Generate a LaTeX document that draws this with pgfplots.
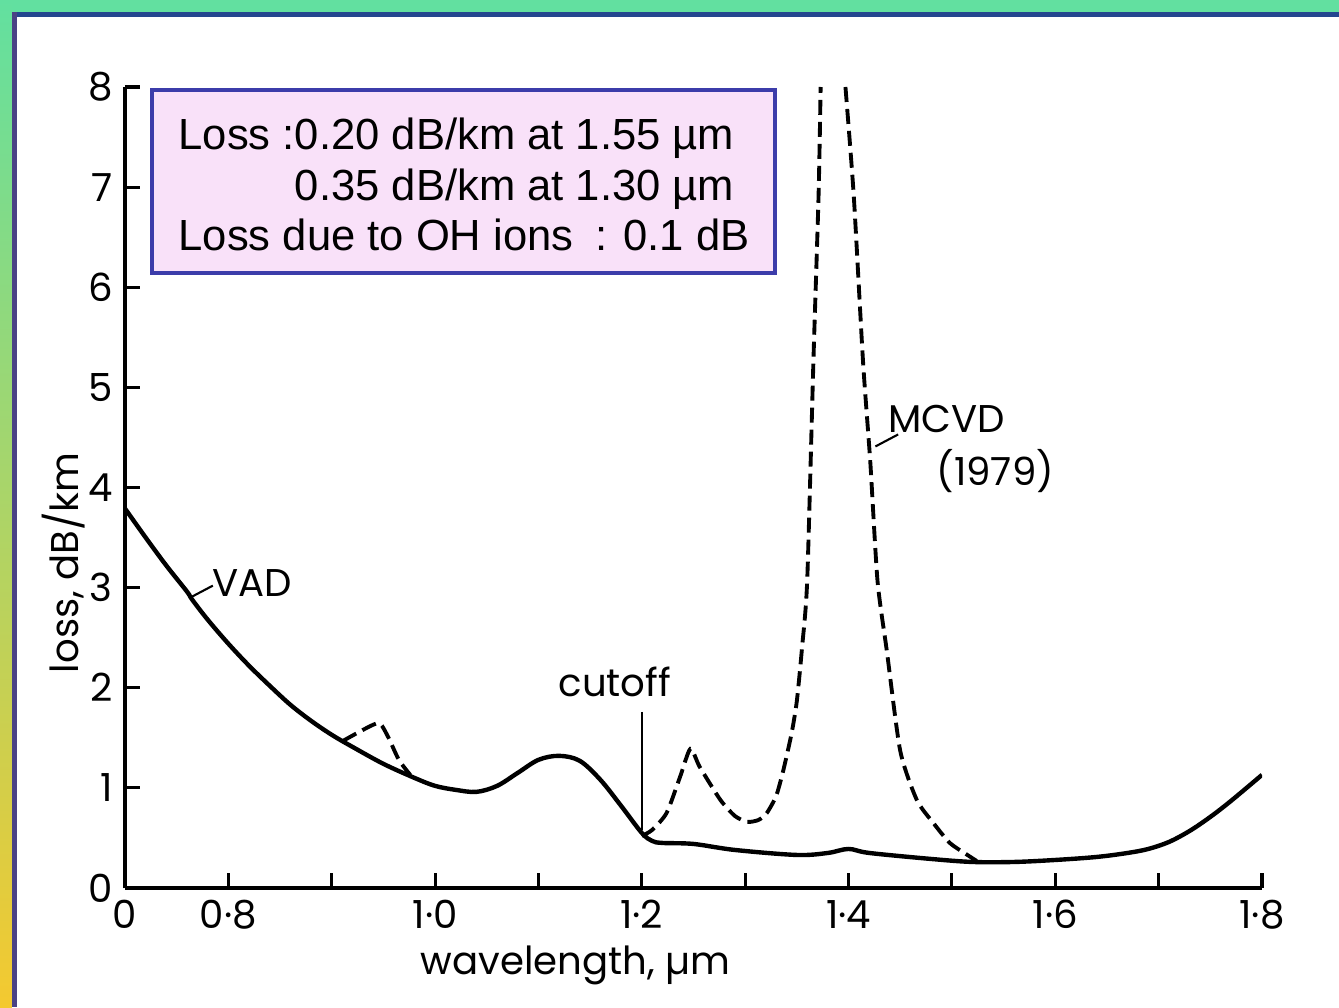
\documentclass[border=0pt]{standalone}
\usepackage{fontspec}
\setmainfont{Poppins}
\newfontfamily\boxfont{Liberation Sans}
\usepackage{pgfplots}
\pgfplotsset{compat=1.18}

\definecolor{frameGreen}{HTML}{62E0A0}
\definecolor{frameYellow}{HTML}{F4C930}
\definecolor{frameBlue}{HTML}{24468F}
\definecolor{framePurple}{HTML}{4A4285}
\definecolor{boxFill}{HTML}{F9E1F9}
\definecolor{boxEdge}{HTML}{3C3CAA}

\begin{document}
\begin{tikzpicture}
% page frame (1 px of the reference = 0.1 mm, axis origin at (0,0))
\fill[white] (-1.25,-1.19) rectangle (12.14,8.88);
\fill[frameGreen] (-1.25,8.76) rectangle (12.14,8.88);
\shade[top color=frameGreen, bottom color=frameYellow] (-1.25,-1.19) rectangle (-1.13,8.88);
\fill[frameBlue] (-1.13,8.71) rectangle (12.14,8.76);
\fill[framePurple] (-1.13,-1.19) rectangle (-1.08,8.76);

\begin{axis}[
  at={(0,0)}, anchor=south west,
  scale only axis, width=11.37cm, height=8.01cm,
  xmin=0.7, xmax=1.8, ymin=0, ymax=8,
  axis x line=bottom, axis y line=left,
  axis line style={-, line width=0.9pt},
  xtick={0.7,0.8,1.0,1.2,1.4,1.6,1.8},
  xticklabels={0,0·8,1·0,1·2,1·4,1·6,1·8},
  minor xtick={0.9,1.1,1.3,1.5,1.7},
  ytick={0,1,2,3,4,5,6,7,8},
  yticklabels={0,1,2,3,4,5,6,7,8},
  tick align=inside, major tick length=0.15cm, minor tick length=0.15cm,
  tick style={black, line width=0.9pt},
  every tick label/.append style={font=\fontsize{11}{13}\selectfont},
  xlabel={wavelength, µm}, ylabel={loss, dB/km},
  xlabel style={at={(rel axis cs:0.396,-0.0961)}, anchor=center, font=\fontsize{11}{13}\selectfont},
  ylabel style={at={(rel axis cs:-0.0537,0.406)}, anchor=center, font=\fontsize{11}{13}\selectfont},
]
% VAD fibre (solid)
\addplot[black, line width=1.25pt, smooth, tension=0.55] coordinates {
(0.70,3.79) (0.72,3.50) (0.74,3.22) (0.76,2.96) (0.765,2.88) (0.78,2.68) (0.80,2.44)
(0.82,2.22) (0.84,2.02) (0.86,1.83) (0.88,1.67) (0.90,1.53) (0.92,1.41) (0.95,1.24)
(0.98,1.10) (1.00,1.02) (1.02,0.98) (1.04,0.96) (1.06,1.02) (1.08,1.15) (1.10,1.28)
(1.12,1.32) (1.14,1.27) (1.16,1.08) (1.18,0.82) (1.20,0.55) (1.21,0.47) (1.22,0.45)
(1.25,0.44) (1.29,0.38) (1.35,0.33) (1.38,0.35) (1.40,0.39) (1.42,0.35) (1.48,0.29)
(1.52,0.26) (1.56,0.26) (1.60,0.28) (1.64,0.31) (1.67,0.35) (1.69,0.39) (1.71,0.46)
(1.73,0.57) (1.75,0.71) (1.77,0.87) (1.80,1.13)};
% MCVD (1979), dashed parts
\addplot[black, line width=1.1pt, dash pattern=on 1.5mm off 0.7mm, smooth, tension=0.5] coordinates {
(0.911,1.47) (0.925,1.55) (0.94,1.63) (0.947,1.64) (0.955,1.50) (0.965,1.28) (0.976,1.13)};
\addplot[black, line width=1.1pt, dash pattern=on 1.5mm off 0.7mm, smooth, tension=0.4] coordinates {
(1.20,0.52) (1.21,0.58) (1.224,0.75) (1.237,1.11) (1.247,1.39) (1.256,1.21) (1.276,0.88)
(1.29,0.72) (1.302,0.66) (1.313,0.68) (1.321,0.75) (1.33,0.92) (1.337,1.18) (1.345,1.55)
(1.350,1.87) (1.355,2.40) (1.360,3.07) (1.366,5.26) (1.371,6.92) (1.373,8.00)};
\addplot[black, line width=1.1pt, dash pattern=on 1.5mm off 0.7mm, smooth, tension=0.4] coordinates {
(1.397,8.00) (1.405,6.92) (1.414,5.26) (1.421,4.26) (1.428,3.07) (1.437,2.37) (1.450,1.37)
(1.466,0.88) (1.482,0.65) (1.498,0.45) (1.515,0.33) (1.524,0.27)};
% annotations
\draw[black, line width=0.6pt] (axis cs:0.763,2.90) -- (axis cs:0.785,3.02);
\node[font=\fontsize{11}{13}\selectfont] at (axis cs:0.823,3.05) {VAD};
\draw[black, line width=0.6pt] (axis cs:1.2,1.76) -- (axis cs:1.2,0.58);
\node[font=\fontsize{11}{13}\selectfont] at (axis cs:1.174,2.06) {cutoff};
\draw[black, line width=0.6pt] (axis cs:1.426,4.41) -- (axis cs:1.448,4.53);
\node[font=\fontsize{11}{13}\selectfont] at (axis cs:1.495,4.68) {MCVD};
\node[font=\fontsize{11}{13}\selectfont] at (axis cs:1.542,4.16) {(1979)};
\end{axis}

% inset box
\draw[boxEdge, fill=boxFill, line width=1.1pt] (0.27,6.15) rectangle (6.50,7.98);
\begin{scope}[every node/.style={inner sep=0pt, font=\boxfont\fontsize{12.4}{14}\selectfont}]
\node[anchor=base west] at (0.53,7.38) {Loss :0.20 dB/km at 1.55 µm};
\node[anchor=base east] at (6.10,6.87) {0.35 dB/km at 1.30 µm};
\node[anchor=base west] at (0.53,6.37) {Loss due to OH ions\enspace : 0.1 dB};
\end{scope}
\end{tikzpicture}
\end{document}
